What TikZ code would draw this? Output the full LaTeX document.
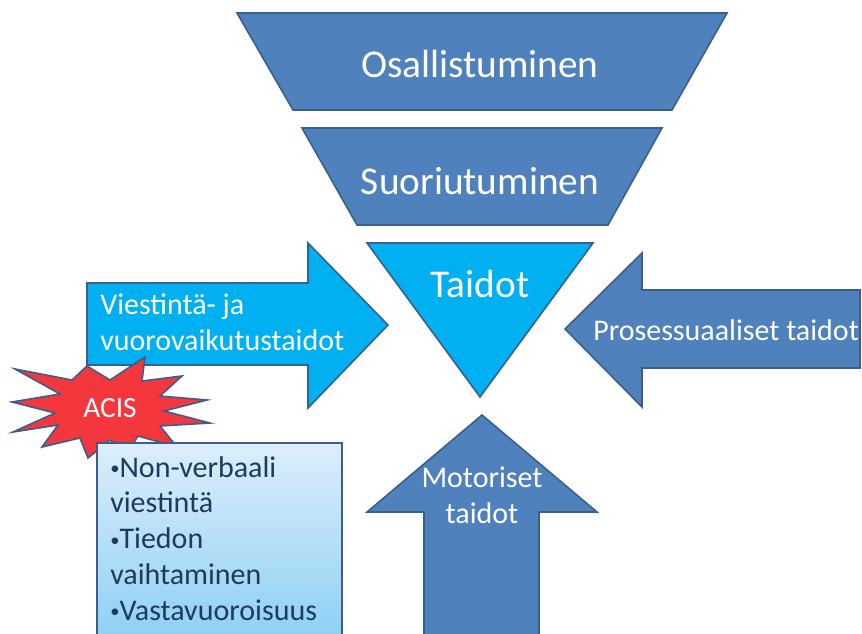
\documentclass[tikz,border=0pt]{standalone}
\usepackage{fontspec}
\setmainfont{Carlito}
\usepackage{tikz}
\definecolor{darkblue}{HTML}{4F81BD}
\definecolor{skyblue}{HTML}{00B0F0}
\definecolor{edgeblue}{HTML}{3A5F8C}
\definecolor{acisred}{HTML}{F4373D}
\definecolor{boxtop}{HTML}{DDEEFB}
\definecolor{boxbottom}{HTML}{8BCFF4}
\definecolor{boxtext}{HTML}{1F3A5C}
\newcommand{\smallbul}{{\fontsize{14}{14}\selectfont\raisebox{0.12em}{\textbullet}}}

\begin{document}
\begin{tikzpicture}[x=0.75pt, y=-0.75pt,
  dark/.style={fill=darkblue, draw=edgeblue, line width=1.2pt},
  light/.style={fill=skyblue, draw=edgeblue, line width=1.2pt},
  big/.style={text=white, inner sep=0pt, font=\fontsize{29.5}{35}\selectfont},
  label/.style={text=white, inner sep=0pt, align=left, font=\fontsize{22.5}{26.5}\selectfont},
  listtext/.style={text=boxtext, inner sep=0pt, align=left, font=\fontsize{22.5}{26.8}\selectfont}]

  \useasboundingbox (0,0) rectangle (862,633);
  \clip (0,0) rectangle (862,633);

  % funnel
  \draw[dark] (237,13) -- (727,13) -- (672,110) -- (293,110) -- cycle;
  \draw[dark] (302,128) -- (662,128) -- (608,225) -- (357,225) -- cycle;
  \draw[light] (367,243) -- (593,243) -- (480,397) -- cycle;
  \node[big, anchor=base] (osall) at (480,77) {Osallistuminen};
  \node[big, anchor=base] (suor) at (480,194) {Suoriutuminen};
  \node[big, anchor=base] (taidot) at (480,297) {Taidot};

  % arrows
  \draw[light] (87,283) -- (308,283) -- (308,243) -- (388,325) -- (308,408) -- (308,365) -- (87,365) -- cycle;
  \draw[dark] (860,290) -- (642,290) -- (642,253) -- (565,329) -- (642,407) -- (642,368) -- (860,368) -- cycle;
  \draw[dark] (482,415) -- (597,512) -- (539,512) -- (539,645) -- (424,645) -- (424,512) -- (367,512) -- cycle;
  \node[label, anchor=base west] (viest) at (100,350) {Viestintä- ja\\vuorovaikutustaidot};
  \node[label, anchor=base west] (proses) at (593,340) {Prosessuaaliset taidot};
  \node[label, align=center, anchor=base] (motor) at (482,523) {Motoriset\\taidot};

  % ACIS
  \draw[fill=acisred, draw=edgeblue, line width=1.2pt]
    (12,402) -- (60,394) -- (15,369) -- (72,380) -- (87,366) -- (110,380)
    -- (145,357) -- (142,381) -- (182,376) -- (160,396) -- (207,400)
    -- (164,411) -- (210,423) -- (160,426) -- (177,447) -- (138,436)
    -- (128,452) -- (110,440) -- (88,458) -- (80,438) -- (42,447)
    -- (58,425) -- (13,432) -- (55,413) -- cycle;
  \node[text=white, inner sep=0pt, font=\fontsize{22}{26}\selectfont, anchor=base] (acis) at (110,417) {ACIS};

  \draw[top color=boxtop, bottom color=boxbottom, draw=edgeblue, line width=1.2pt]
    (97,443) rectangle (342,645);
  \node[listtext, anchor=base west] (lista) at (110,620)
    {\smallbul Non-verbaali\\viestintä\\\smallbul Tiedon\\vaihtaminen\\\smallbul Vastavuoroisuus};

\end{tikzpicture}
\end{document}
